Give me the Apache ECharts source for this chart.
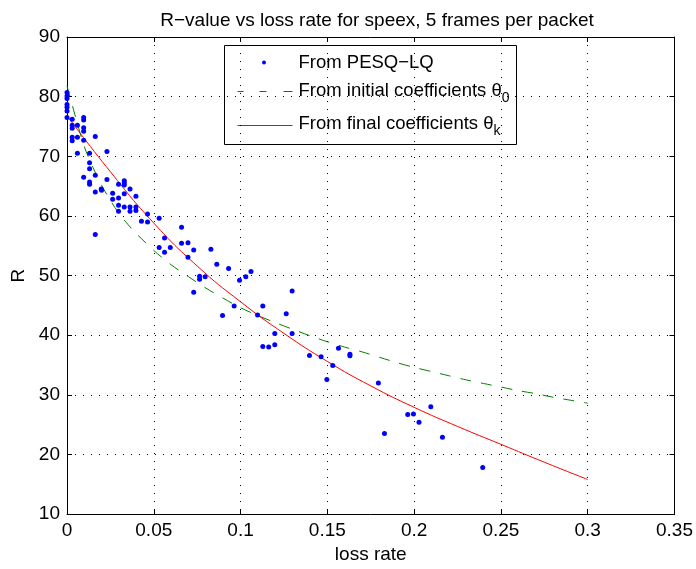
<!DOCTYPE html>
<html>
<head>
<meta charset="utf-8">
<script src="https://cdn.jsdelivr.net/npm/echarts@6/dist/echarts.min.js"></script>
<style>
  html, body { margin: 0; padding: 0; background: #fff; }
  #chart { width: 696px; height: 569px; }
</style>
</head>
<body>
<div id="chart"></div>
<script>
// Measured R-values (PESQ-LQ) against packet loss rate
const lossRate = [
  0, 0, 0, 0, 0, 0, 0,
  0.003, 0.003, 0.003, 0.003, 0.003,
  0.006, 0.006, 0.006,
  0.0096, 0.0096, 0.0096, 0.0096, 0.0096, 0.0096,
  0.013, 0.013, 0.013, 0.013, 0.013,
  0.0163, 0.0163, 0.0163, 0.0163,
  0.0197, 0.0199,
  0.023, 0.023,
  0.0263, 0.0263,
  0.0297, 0.0297, 0.0297, 0.0297,
  0.033, 0.033, 0.033, 0.033, 0.033,
  0.0363, 0.0363, 0.0363,
  0.0397, 0.0397, 0.0397,
  0.0429,
  0.0464, 0.0464,
  0.0531, 0.0531,
  0.0562, 0.0562,
  0.0595,
  0.066, 0.066,
  0.0697, 0.0697,
  0.073, 0.073,
  0.0764, 0.0764,
  0.0796, 0.0829, 0.0863, 0.0896, 0.0931, 0.0963, 0.0994, 0.103, 0.106, 0.1098,
  0.1128, 0.1128,
  0.1162,
  0.1197, 0.1197,
  0.1263,
  0.1297, 0.1297,
  0.1397, 0.1464, 0.1497, 0.1531, 0.1564,
  0.163, 0.163,
  0.1794, 0.1829, 0.1963, 0.1996, 0.2028, 0.2096, 0.2163, 0.2395
];
const rValue = [
  80.7, 80.1, 79.7, 78.7, 78.2, 77.6, 76.5,
  76.2, 75.2, 74.7, 73.2, 72.6,
  75.2, 73.2, 70.5,
  76.5, 76.1, 74.8, 74.2, 72.7, 66.5,
  70.5, 68.9, 67.9, 65.7, 65.3,
  73.3, 66.8, 64.0, 56.9,
  64.5, 64.3,
  70.8, 66.1,
  63.8, 62.8,
  65.3, 63.0, 61.8, 60.8,
  65.9, 65.5, 65.2, 63.7, 61.5,
  64.5, 61.5, 60.8,
  63.3, 61.5, 60.9,
  59.1,
  60.3, 59.0,
  59.6, 54.7,
  56.3, 53.9,
  54.7,
  58.1, 55.4,
  55.5, 53.05,
  54.3, 47.2,
  49.9, 49.4,
  49.8, 54.4, 51.9, 43.3, 51.2, 44.9, 49.2, 49.8, 50.7, 43.4,
  44.9, 38.1,
  38.0,
  40.3, 38.4,
  43.6,
  47.4, 40.3,
  36.6, 36.4, 32.55, 34.9, 37.8,
  36.8, 36.55,
  32.0, 23.5, 26.7, 26.8, 25.4, 28.0, 22.9, 17.8
];

// Model curve from the initial coefficients theta_0
const initialLoss = [0, 0.005, 0.01, 0.015, 0.02, 0.025, 0.03, 0.035, 0.04, 0.045, 0.05,
  0.06, 0.07, 0.08, 0.09, 0.1, 0.11, 0.12, 0.13, 0.14, 0.15, 0.16, 0.17, 0.18, 0.19, 0.2,
  0.21, 0.22, 0.23, 0.24, 0.25, 0.26, 0.27, 0.28, 0.29, 0.3];
const initialR = [81.8, 76.5, 71.6, 68.1, 65.1, 62.6, 60.4, 58.6, 57.0, 55.6, 54.2,
  51.8, 49.8, 47.9, 46.2, 44.6, 43.3, 42.1, 41.0, 39.9, 38.9, 38.0, 37.2, 36.3, 35.4, 34.6,
  33.9, 33.2, 32.5, 31.9, 31.3, 30.7, 30.2, 29.6, 29.1, 28.6];

// Model curve from the final coefficients theta_k
const finalLoss = [0, 0.025, 0.05, 0.075, 0.1, 0.125, 0.15, 0.175, 0.2, 0.225, 0.25, 0.275, 0.3];
const finalR = [76.8, 67.4, 58.8, 51.6, 45.6, 40.3, 35.6, 31.5, 27.9, 24.7, 21.7, 18.7, 15.8];

const xTicks = { min: 0, max: 0.35, interval: 0.05 };
const yTicks = { min: 10, max: 90, interval: 10 };

const FONT = '"Liberation Sans", Arial, Helvetica, sans-serif';
const FS = 19;

const pairs = (xs, ys) => xs.map((x, i) => [x, ys[i]]);

const chart = echarts.init(document.getElementById('chart'), null, { renderer: 'canvas' });

const gridLine = { show: true, lineStyle: { color: '#000', width: 1, type: [1, 7] } };
const boxLine = { show: true, onZero: false, lineStyle: { color: '#000', width: 1 } };
const tick = { show: true, inside: true, length: 5, lineStyle: { color: '#000', width: 1 } };
const subStyle = { fontFamily: FONT, fontSize: 14, padding: [14, 0, 0, 0], fill: '#000' };

const option = {
  animation: false,
  backgroundColor: '#fff',
  title: {
    text: 'R\u2212value vs loss rate for speex, 5 frames per packet',
    left: 372, top: 6, textAlign: 'center',
    textStyle: { fontFamily: FONT, fontSize: FS, fontWeight: 'normal', color: '#000' }
  },
  grid: { left: 67, right: 21, top: 37, bottom: 52 },
  xAxis: [
    {
      type: 'value', position: 'bottom', ...xTicks,
      name: 'loss rate', nameLocation: 'middle', nameGap: 27,
      nameTextStyle: { fontFamily: FONT, fontSize: FS, color: '#000' },
      axisLine: boxLine, axisTick: tick, splitLine: gridLine,
      axisLabel: { fontFamily: FONT, fontSize: FS, color: '#000', margin: 7 }
    },
    {
      type: 'value', position: 'top', ...xTicks,
      axisLine: boxLine, axisTick: tick, splitLine: { show: false },
      axisLabel: { show: false }
    }
  ],
  yAxis: [
    {
      type: 'value', position: 'left', ...yTicks,
      name: 'R', nameLocation: 'middle', nameGap: 36, nameRotate: 90,
      nameTextStyle: { fontFamily: FONT, fontSize: FS, color: '#000' },
      axisLine: boxLine, axisTick: tick, splitLine: gridLine,
      axisLabel: { fontFamily: FONT, fontSize: FS, color: '#000', margin: 7 }
    },
    {
      type: 'value', position: 'right', ...yTicks,
      axisLine: boxLine, axisTick: tick, splitLine: { show: false },
      axisLabel: { show: false }
    }
  ],
  series: [
    {
      name: 'From PESQ\u2212LQ', type: 'scatter', xAxisIndex: 0, yAxisIndex: 0,
      data: pairs(lossRate, rValue),
      symbol: 'circle', symbolSize: 5,
      itemStyle: { color: '#0000ff', opacity: 1 }, z: 3
    },
    {
      name: 'From initial coefficients', type: 'line', xAxisIndex: 0, yAxisIndex: 0,
      data: pairs(initialLoss, initialR),
      showSymbol: false, symbol: 'none', smooth: 0.3,
      lineStyle: { color: '#008000', width: 1, type: [11, 10] }, z: 2
    },
    {
      name: 'From final coefficients', type: 'line', xAxisIndex: 0, yAxisIndex: 0,
      data: pairs(finalLoss, finalR),
      showSymbol: false, symbol: 'none', smooth: true,
      lineStyle: { color: '#ff0000', width: 1 }, z: 2
    }
  ],
  graphic: [
    {
      type: 'group', left: 224, top: 45, z: 10,
      children: [
        { type: 'rect', shape: { x: 0, y: 0, width: 292, height: 99 },
          style: { fill: '#fff', stroke: '#000', lineWidth: 1 } },
        { type: 'circle', shape: { cx: 39.5, cy: 17, r: 2 }, style: { fill: '#0000ff' } },
        { type: 'line', shape: { x1: 13, y1: 46, x2: 19, y2: 46 }, style: { stroke: '#008000', lineWidth: 1 } },
        { type: 'line', shape: { x1: 35, y1: 46, x2: 42, y2: 46 }, style: { stroke: '#008000', lineWidth: 1 } },
        { type: 'line', shape: { x1: 59, y1: 46, x2: 68, y2: 46 }, style: { stroke: '#008000', lineWidth: 1 } },
        { type: 'line', shape: { x1: 13, y1: 80, x2: 68, y2: 80 }, style: { stroke: '#ff0000', lineWidth: 1 } },
        { type: 'text', left: 74, top: 8,
          style: { text: 'From PESQ\u2212LQ', font: '18.5px ' + FONT, fill: '#000' } },
        { type: 'text', left: 74, top: 36,
          style: { text: 'From initial coefficients \u03b8{sub|0}', fill: '#000', font: '18.5px ' + FONT,
            rich: { sub: subStyle } } },
        { type: 'text', left: 74, top: 69,
          style: { text: 'From final coefficients \u03b8{sub|k}', fill: '#000', font: '18.5px ' + FONT,
            rich: { sub: subStyle } } }
      ]
    }
  ]
};

chart.setOption(option);
</script>
</body>
</html>
